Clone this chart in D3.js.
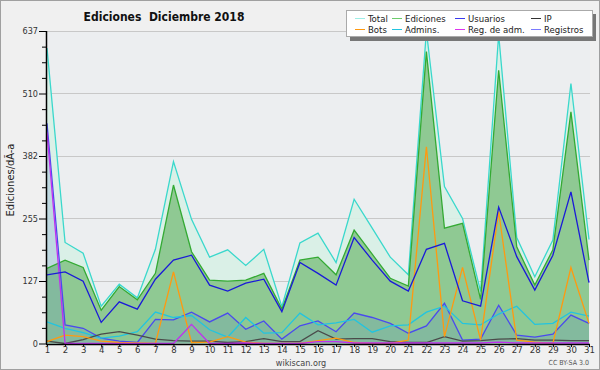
<!DOCTYPE html>
<html>
<head>
<meta charset="utf-8">
<script src="https://cdn.jsdelivr.net/npm/d3@7"></script>
<style>
  body { margin: 0; background: #f0f0f0; }
  #wrapper { width: 600px; height: 370px; }
  text { font-family: "DejaVu Sans Condensed", "DejaVu Sans", sans-serif; font-stretch: condensed; }
</style>
</head>
<body>
<div id="wrapper"></div>
<script>
const days = d3.range(1, 32)
const yTicks = [0, 127, 255, 382, 510, 637]

const total     = [602,206,184,76,121,93,192,371,253,176,191,159,192,75,205,225,165,294,235,176,140,637,320,255,106,630,216,136,211,530,212]
const ediciones = [153,170,155,68,116,89,143,323,187,129,127,129,143,70,170,176,140,231,182,133,117,595,235,245,90,557,197,119,191,472,170]
const usuarios  = [140,146,127,43,85,70,131,170,180,119,107,123,131,65,165,143,119,216,170,127,107,192,204,87,76,278,177,109,180,309,124]
const ip        = [5,0,8,19,24,17,9,6,5,5,2,4,10,4,4,26,9,10,10,4,2,2,14,5,6,9,10,7,7,6,6]
const bots      = [4,17,14,5,2,1,0,146,2,3,14,3,0,0,0,6,11,2,0,0,7,401,14,155,7,269,7,3,0,155,41]
const admins    = [44,31,22,11,15,24,64,53,57,28,13,53,21,22,62,38,42,49,23,36,38,64,76,41,38,60,76,39,41,64,56]
const regAdm    = [430,0,0,0,0,0,0,0,39,0,0,1,0,0,0,4,4,1,1,1,1,1,1,1,1,3,1,1,1,1,1]
const registros = [449,38,31,11,5,2,49,48,64,44,62,29,46,9,36,46,24,62,53,41,21,36,82,7,9,78,17,13,19,58,41]

const width = 600
const height = 370
const margin = { top: 31, right: 10, bottom: 26, left: 46 }
const boundedWidth = width - margin.left - margin.right
const boundedHeight = height - margin.top - margin.bottom

const svg = d3.select("#wrapper")
    .append("svg")
    .attr("width", width)
    .attr("height", height)

svg.append("rect")
    .attr("x", 0.5).attr("y", 0.5)
    .attr("width", width - 1).attr("height", height - 1)
    .attr("fill", "#f0f0f0")
    .attr("stroke", "#a0a0a0")

const bounds = svg.append("g")
    .attr("transform", `translate(${margin.left},${margin.top})`)

const xScale = d3.scaleLinear()
    .domain([1, 31])
    .range([1, boundedWidth - 1])

const yScale = d3.scaleLinear()
    .domain([0, 637])
    .range([boundedHeight - 0.5, 0])

// plot background
bounds.append("rect")
    .attr("width", boundedWidth)
    .attr("height", boundedHeight)
    .attr("fill", "#eceef0")

// grid
bounds.append("g")
    .selectAll("line")
    .data(yTicks.slice(1))
    .enter()
    .append("line")
    .attr("x1", 0)
    .attr("x2", boundedWidth)
    .attr("y1", d => Math.round(yScale(d)) + 0.5)
    .attr("y2", d => Math.round(yScale(d)) + 0.5)
    .attr("stroke", "#c8c8c8")

const area = d3.area()
    .x((d, i) => xScale(days[i]))
    .y0(yScale(0))
    .y1(d => yScale(d))

const line = d3.line()
    .x((d, i) => xScale(days[i]))
    .y(d => yScale(d))

bounds.append("path").attr("d", area(total)).attr("fill", "#d8efe6").attr("fill-opacity", 0.9)
bounds.append("path").attr("d", area(ediciones)).attr("fill", "#8fc993")
bounds.append("path").attr("d", area(registros)).attr("fill", "#5a86c8").attr("fill-opacity", 0.22)

const series = [
    [total, "#3ad8cc"],
    [ediciones, "#33aa33"],
    [registros, "#4a4aee"],
    [admins, "#22c4e0"],
    [ip, "#4a4a4a"],
    [bots, "#ff9910"],
    [regAdm, "#c030f0"],
    [usuarios, "#1a1ad8"],
]

bounds.append("g")
    .selectAll("path")
    .data(series)
    .enter()
    .append("path")
    .attr("d", d => line(d[0]))
    .attr("fill", "none")
    .attr("stroke", d => d[1])
    .attr("stroke-width", 1.3)

// axes
const isMajor = d => yTicks.some(t => Math.abs(t - d) < 1)
const yAxisGen = d3.axisLeft(yScale)
    .tickValues(d3.range(0, 21).map(i => i * 637 / 20))
    .tickSize(4)
    .tickFormat(d => isMajor(d) ? Math.round(d) : "")
const yAxis = bounds.append("g")
    .call(yAxisGen)
yAxis.select(".domain").attr("stroke", "#000").attr("stroke-width", 1.5).attr("d", `M0.5,0V${boundedHeight}`)
yAxis.selectAll(".tick line").attr("stroke", "#000")
yAxis.selectAll(".tick").filter(isMajor).select("line").attr("x2", -7)
yAxis.selectAll("text").attr("x", -8).attr("font-size", 9).attr("fill", "#333").attr("font-family", null)

const xAxisGen = d3.axisBottom(xScale)
    .tickValues(days)
    .tickSize(3)
    .tickFormat(d3.format("d"))
const xAxis = bounds.append("g")
    .attr("transform", `translate(0,${boundedHeight})`)
    .call(xAxisGen)
xAxis.select(".domain").attr("stroke", "#000").attr("stroke-width", 1.5).attr("d", `M0,0.5H${boundedWidth}`)
xAxis.selectAll(".tick line").attr("stroke", "#000")
xAxis.selectAll("text").attr("y", 2.5).attr("font-size", 9.5).attr("fill", "#333").attr("font-family", null)

// title and labels
svg.append("text")
    .attr("x", 164)
    .attr("y", 21)
    .attr("text-anchor", "middle")
    .attr("font-size", 12)
    .attr("font-weight", "bold")
    .attr("fill", "#111")
    .attr("xml:space", "preserve")
    .text("Ediciones  Diciembre 2018")

svg.append("text")
    .attr("transform", "translate(14,180) rotate(-90)")
    .attr("text-anchor", "middle")
    .attr("font-size", 11)
    .attr("fill", "#222")
    .text("Ediciones/dÃ-a")

svg.append("text")
    .attr("x", 301)
    .attr("y", 366)
    .attr("text-anchor", "middle")
    .attr("font-size", 9)
    .attr("fill", "#444")
    .text("wikiscan.org")

svg.append("text")
    .attr("x", 589)
    .attr("y", 365)
    .attr("text-anchor", "end")
    .attr("font-size", 7)
    .attr("fill", "#555")
    .text("CC BY-SA 3.0")

// legend
const legendItems = [
    ["Total", "#9eeee6", 0, 0], ["Ediciones", "#6ccc6c", 1, 0], ["Usuarios", "#3a3aee", 2, 0], ["IP", "#333333", 3, 0],
    ["Bots", "#ff9910", 0, 1], ["Admins.", "#22c4e0", 1, 1], ["Reg. de adm.", "#dd33ee", 2, 1], ["Registros", "#7a7aff", 3, 1],
]
const colX = [355, 392, 455, 531]
const rowY = [18, 29]

const legend = svg.append("g")
legend.append("rect")
    .attr("x", 350).attr("y", 14)
    .attr("width", 246).attr("height", 27)
    .attr("fill", "#777")
legend.append("rect")
    .attr("x", 346.5).attr("y", 10.5)
    .attr("width", 246).attr("height", 26)
    .attr("fill", "#fff")
    .attr("stroke", "#aaa")

legend.selectAll("line")
    .data(legendItems)
    .enter()
    .append("line")
    .attr("x1", d => colX[d[2]])
    .attr("x2", d => colX[d[2]] + 10)
    .attr("y1", d => rowY[d[3]] + 0.5)
    .attr("y2", d => rowY[d[3]] + 0.5)
    .attr("stroke", d => d[1])
    .attr("stroke-width", 1)

legend.selectAll("text")
    .data(legendItems)
    .enter()
    .append("text")
    .attr("x", d => colX[d[2]] + 13)
    .attr("y", d => rowY[d[3]] + 3.5)
    .attr("font-size", 9.5)
    .attr("fill", "#222")
    .text(d => d[0])
</script>
</body>
</html>
